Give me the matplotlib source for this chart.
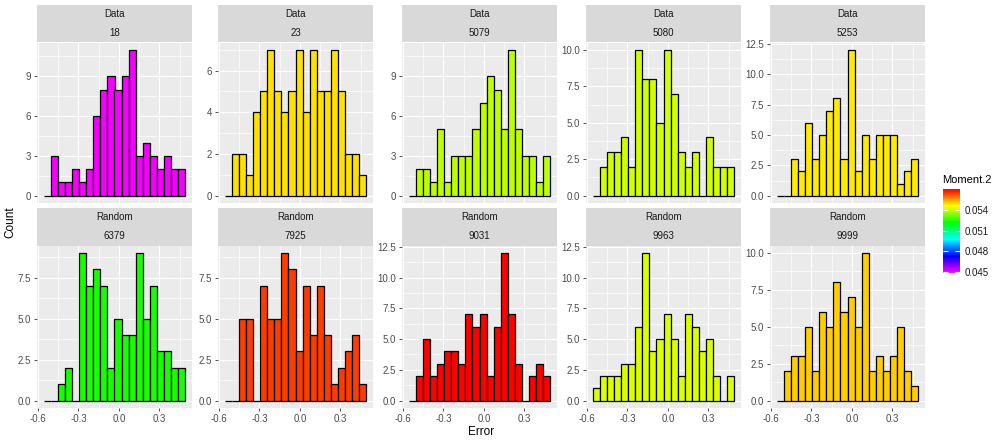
import numpy as np
import matplotlib.pyplot as plt
from matplotlib.colors import LinearSegmentedColormap, Normalize
from matplotlib.cm import ScalarMappable

plt.rcParams['font.family'] = ['Liberation Sans', 'DejaVu Sans']

## data ##
types = ["Data"] * 5 + ["Random"] * 5
ids = ["18", "23", "5079", "5080", "5253", "6379", "7925", "9031", "9963", "9999"]
moment2 = [0.0450, 0.0548, 0.0539, 0.0541, 0.0547, 0.0523, 0.05635, 0.0570, 0.0542, 0.0550]

bin_lo, bin_hi, n_bins = -0.555, 0.49, 20  # histogram bins shared by all panels

counts_18 = [0, 3, 1, 1, 2, 1, 2, 6, 8, 9, 8, 9, 11, 3, 4, 3, 2, 3, 2, 2]
counts_23 = [0, 2, 2, 1, 4, 5, 7, 5, 4, 5, 7, 4, 7, 5, 5, 7, 5, 2, 2, 1]
counts_5079 = [0, 2, 2, 1, 5, 1, 3, 3, 3, 5, 7, 9, 8, 5, 11, 5, 3, 3, 1, 3]
counts_5080 = [0, 2, 3, 3, 4, 2, 10, 8, 8, 5, 10, 7, 3, 2, 3, 0, 4, 2, 2, 2]
counts_5253 = [0, 0, 3, 2, 6, 3, 5, 7, 8, 3, 12, 2, 5, 3, 5, 5, 5, 1, 2, 3]
counts_6379 = [0, 0, 1, 2, 0, 9, 7, 8, 7, 2, 5, 4, 4, 9, 5, 7, 3, 3, 2, 2]
counts_7925 = [0, 0, 5, 5, 0, 7, 5, 5, 9, 8, 3, 7, 4, 7, 4, 1, 2, 3, 4, 1]
counts_9031 = [0, 2, 5, 2, 3, 4, 4, 3, 7, 6, 7, 2, 6, 12, 7, 3, 0, 2, 3, 2]
counts_9963 = [1, 2, 2, 2, 3, 3, 6, 12, 4, 5, 7, 5, 2, 7, 6, 4, 5, 2, 0, 2]
counts_9999 = [0, 2, 3, 3, 5, 2, 6, 5, 8, 6, 7, 5, 10, 2, 3, 2, 3, 5, 2, 1]
all_counts = [counts_18, counts_23, counts_5079, counts_5080, counts_5253,
              counts_6379, counts_7925, counts_9031, counts_9963, counts_9999]

y_steps = [3, 2, 3, 2.5, 2.5, 2.5, 2.5, 2.5, 2.5, 2.5]  # y break spacing per panel
x_ticks = [-0.6, -0.3, 0.0, 0.3]
legend_ticks = [0.045, 0.048, 0.051, 0.054]
legend_range = (0.0449, 0.05696)

## colours ##
cmap = LinearSegmentedColormap.from_list(
    "rb", ["#FF00FF", "#0000FF", "#00FFFF", "#00FF00", "#FFFF00", "#FF0000"])
norm = Normalize(*legend_range)

## layout (pixels) ##
W, H = 1000, 440
fig = plt.figure(figsize=(W / 100, H / 100), dpi=100)


def px(x0, y0, w, h):  # rect from top-left pixel coords
    return [x0 / W, 1 - (y0 + h) / H, w / W, h / H]


col_left = [37, 218, 402, 586, 770]
strip_top = [5, 208]
strip_h = 37.5
panel_bot = [203, 408]
pw = 155

edges = np.linspace(bin_lo, bin_hi, n_bins + 1)
centers = (edges[:-1] + edges[1:]) / 2
binw = edges[1] - edges[0]
xpad = 0.05 * (bin_hi - bin_lo)

for i in range(10):
    r, c = i // 5, i % 5
    y0 = strip_top[r] + strip_h
    ax = fig.add_axes(px(col_left[c], y0, pw, panel_bot[r] - y0))
    cnt = all_counts[i]
    ax.bar(centers, cnt, width=binw, color=cmap(norm(moment2[i])),
           edgecolor="black", linewidth=0.9, zorder=3)
    ymax = max(cnt)
    ax.set_xlim(bin_lo - xpad, bin_hi + xpad)
    ax.set_ylim(-0.05 * ymax, 1.05 * ymax)
    ax.set_facecolor("#EBEBEB")
    for s in ax.spines.values():
        s.set_visible(False)

    st = y_steps[i]
    yt = np.arange(0, 1.05 * ymax + 1e-9, st)
    ax.set_yticks(yt)
    if st == int(st):
        ax.set_yticklabels([f"{v:.0f}" for v in yt])
    else:
        ax.set_yticklabels([f"{v:.1f}" for v in yt])
    ax.set_yticks(np.arange(st / 2, 1.05 * ymax, st), minor=True)
    ax.set_xticks(x_ticks)
    ax.set_xticks([x + 0.15 for x in x_ticks], minor=True)
    ax.grid(True, which="major", color="white", linewidth=0.85, zorder=0)
    ax.grid(True, which="minor", color="white", linewidth=0.45, zorder=0)
    ax.set_axisbelow(True)
    ax.tick_params(which="minor", length=0)
    ax.tick_params(which="major", length=2.5, width=0.6, color="#333333",
                   labelsize=7, labelcolor="#4D4D4D", pad=2)
    if r == 0:
        ax.tick_params(axis="x", length=0, labelbottom=False)
    else:
        ax.set_xticklabels([f"{v:.1f}" for v in x_ticks])

    # two stacked strips
    sax = fig.add_axes(px(col_left[c], strip_top[r], pw, strip_h))
    sax.set_facecolor("#D9D9D9")
    sax.set_xticks([])
    sax.set_yticks([])
    for s in sax.spines.values():
        s.set_visible(False)
    sax.text(0.5, 0.75, types[i], ha="center", va="center", fontsize=7, color="#1A1A1A")
    sax.text(0.5, 0.25, ids[i], ha="center", va="center", fontsize=7, color="#1A1A1A")

fig.text(481 / W, 1 - 432 / H, "Error", ha="center", va="center", fontsize=8.5, color="black")
fig.text(10 / W, 1 - 222 / H, "Count", ha="center", va="center", rotation=90, fontsize=8.5, color="black")

## legend ##
cax = fig.add_axes(px(943, 189, 17, 84))
sm = ScalarMappable(norm=norm, cmap=cmap)
cb = fig.colorbar(sm, cax=cax, ticks=legend_ticks)
cb.outline.set_visible(False)
cb.ax.set_yticklabels([f"{v:.3f}" for v in legend_ticks])
cax.minorticks_off()
cax.tick_params(axis="y", direction="in", color="white", length=3.5, width=0.8,
                left=True, right=True, labelsize=7, labelcolor="#1A1A1A", pad=3)
fig.text(942 / W, 1 - 180 / H, "Moment.2", ha="left", va="center", fontsize=8, color="black")

plt.savefig("out.png", dpi=100)
